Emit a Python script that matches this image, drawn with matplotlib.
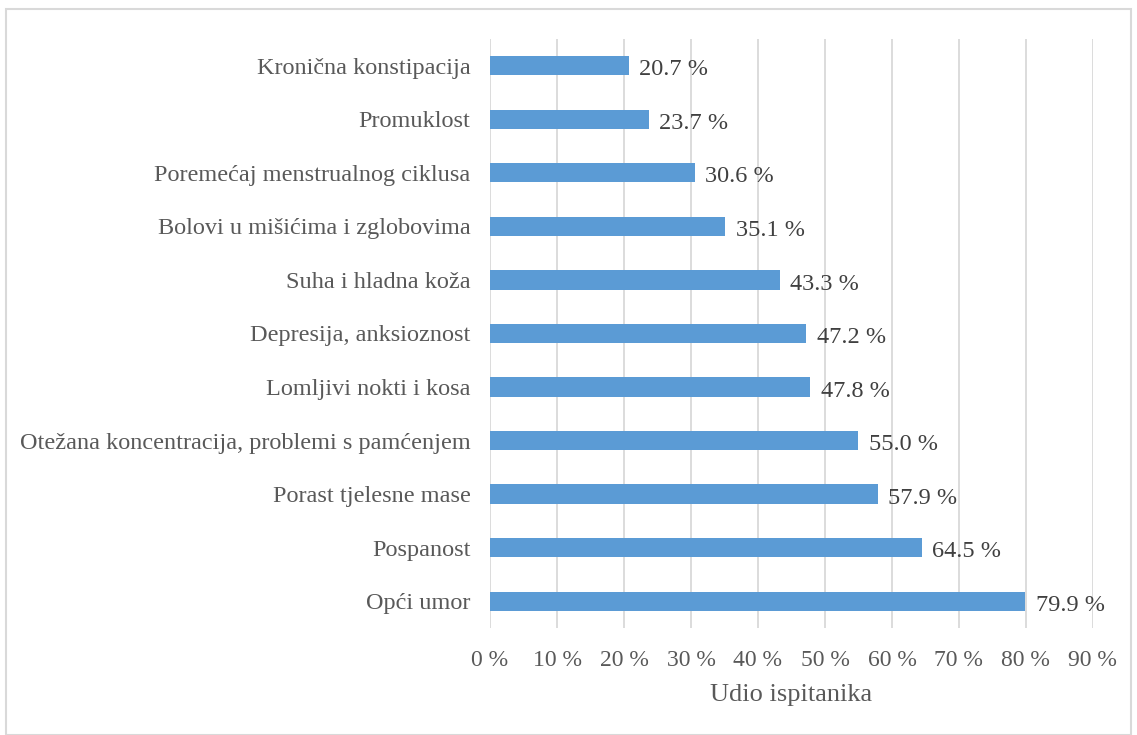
import matplotlib.pyplot as plt
from matplotlib.patches import Rectangle

# kategorije simptoma (od dna prema vrhu)
simptomi = [
    "Opći umor",
    "Pospanost",
    "Porast tjelesne mase",
    "Otežana koncentracija, problemi s pamćenjem",
    "Lomljivi nokti i kosa",
    "Depresija, anksioznost",
    "Suha i hladna koža",
    "Bolovi u mišićima i zglobovima",
    "Poremećaj menstrualnog ciklusa",
    "Promuklost",
    "Kronična konstipacija",
]
udio = [79.9, 64.5, 57.9, 55.0, 47.8, 47.2, 43.3, 35.1, 30.6, 23.7, 20.7]
x_ticks = [0, 10, 20, 30, 40, 50, 60, 70, 80, 90]

plt.rcParams['font.family'] = ['Liberation Serif', 'DejaVu Serif']

fig = plt.figure(figsize=(11.37, 7.35), dpi=100)
ax = fig.add_axes([0.431, 0.1456, 0.5302, 0.8014])

pozicije = list(range(len(simptomi)))
ax.barh(pozicije, udio, height=0.36, color='#5B9BD5', zorder=3)

# oznake vrijednosti desno od stupaca
for y, v in zip(pozicije, udio):
    ax.annotate(f"{v:.1f} %", (v, y), xytext=(7.5, -3), textcoords='offset points',
                va='center', ha='left', fontsize=17.5, color='#404040')

ax.set_xlim(0, 90)
ax.set_ylim(-0.5, len(simptomi) - 0.5)
ax.set_xticks(x_ticks)
ax.set_xticklabels([f"{t} %" for t in x_ticks], fontsize=17, color='#595959')
ax.set_yticks(pozicije)
ax.set_yticklabels(simptomi, fontsize=17.5, color='#595959')
ax.tick_params(axis='both', length=0)
ax.tick_params(axis='x', pad=16)
ax.tick_params(axis='y', pad=14)

ax.grid(axis='x', color='#D9D9D9', linewidth=1.3, zorder=0)
for s in ax.spines.values():
    s.set_visible(False)

ax.set_xlabel("Udio ispitanika", fontsize=19, color='#595959', labelpad=9)

# okvir oko cijele slike
fig.patches.append(Rectangle((6 / 1137, 0), 1 - 12 / 1137, 1 - 9 / 735,
                             transform=fig.transFigure, fill=False,
                             edgecolor='#D9D9D9', linewidth=1.5))

fig.savefig("out.png", dpi=100)
